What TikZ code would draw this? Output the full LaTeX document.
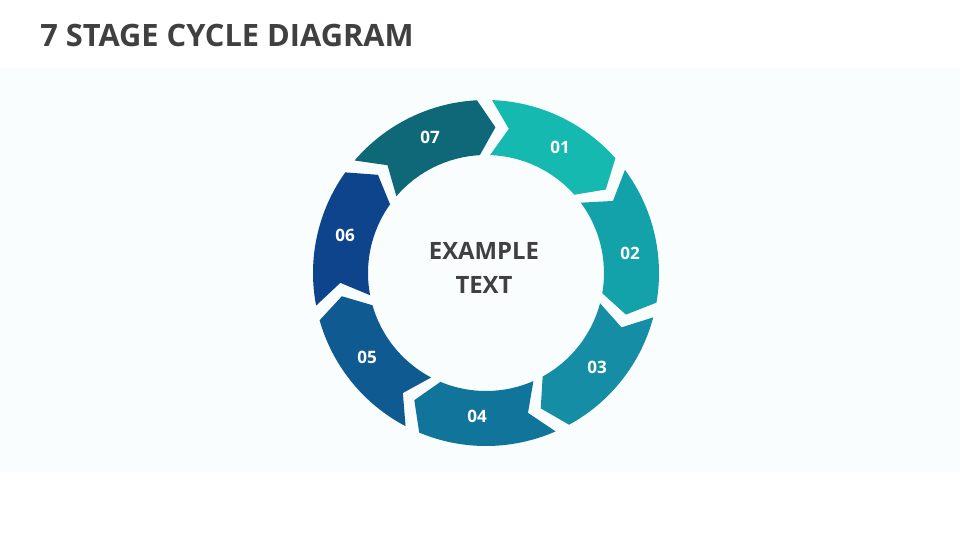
\documentclass[tikz,border=0pt]{standalone}
\usepackage{fontspec}
\setmainfont{Open Sans}
\definecolor{cA}{HTML}{15B9B0}
\definecolor{cB}{HTML}{13A2AA}
\definecolor{cC}{HTML}{148DA5}
\definecolor{cD}{HTML}{11759B}
\definecolor{cE}{HTML}{0F5A91}
\definecolor{cF}{HTML}{0D448C}
\definecolor{cG}{HTML}{0E6878}
\definecolor{txt}{HTML}{404040}
\definecolor{panel}{HTML}{F9FDFD}
\newcommand{\ringseg}[3]{%
  \fill[#3] (#1-2.5:173) arc[start angle=#1-2.5, end angle=#2+2.5, radius=173]
    -- (#2-4.2:146) -- (#2+2.5:118) arc[start angle=#2+2.5, end angle=#1-2.5, radius=118]
    -- (#1-9.5:146) -- cycle;}
\tikzset{seglabel/.style={text=white, font=\bfseries\fontsize{12.8}{14}\selectfont, inner sep=0pt}}
\begin{document}
\begin{tikzpicture}[x=0.75pt,y=0.75pt]
\useasboundingbox (0,0) rectangle (960,-540);
\fill[white] (0,0) rectangle (960,-540);
\fill[panel] (0,-68) rectangle (960,-472);
\node[anchor=base west, text=txt, font=\bfseries\fontsize{23.1}{28}\selectfont, inner sep=0pt] (title) at (40,-46) {7 STAGE CYCLE DIAGRAM};
\begin{scope}[shift={(486,-273)}]
\ringseg{90.5}{39.07}{cA}
\ringseg{39.07}{-12.36}{cB}
\ringseg{-12.36}{-63.79}{cC}
\ringseg{-63.79}{-115.21}{cD}
\ringseg{-115.21}{-166.64}{cE}
\ringseg{-166.64}{-218.07}{cF}
\ringseg{-218.07}{-269.5}{cG}
\end{scope}
\node[seglabel] (l1) at (560,-147) {01};
\node[seglabel] (l2) at (630,-253) {02};
\node[seglabel] (l3) at (597,-367) {03};
\node[seglabel] (l4) at (477,-416) {04};
\node[seglabel] (l5) at (367,-357) {05};
\node[seglabel] (l6) at (345,-235) {06};
\node[seglabel] (l7) at (430,-137) {07};
\node[text=txt, font=\bfseries\fontsize{17.9}{25.5}\selectfont, align=center, inner sep=0pt] (center) at (484,-268) {EXAMPLE\\TEXT};
\end{tikzpicture}
\end{document}
